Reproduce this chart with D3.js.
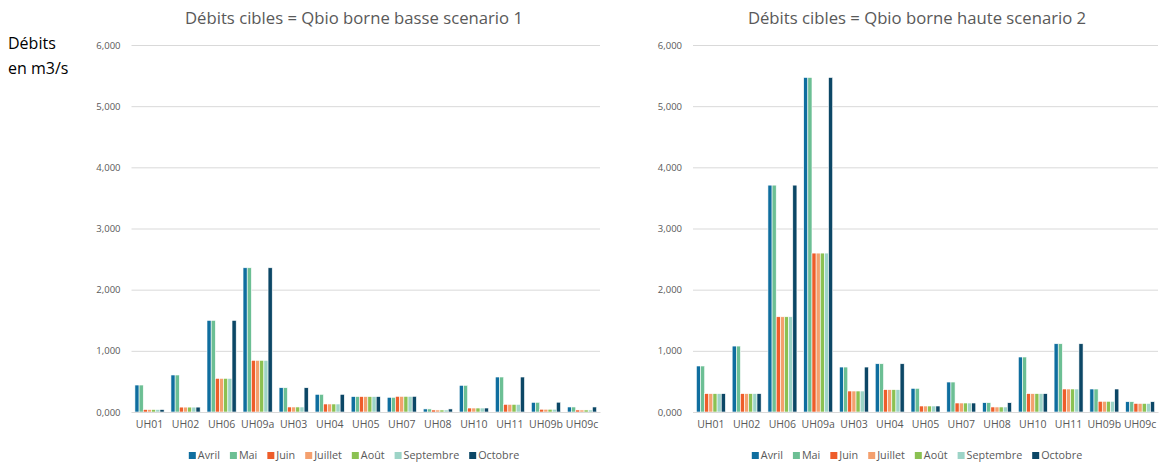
<!DOCTYPE html>
<html lang="fr">
<head>
<meta charset="utf-8">
<title>Débits cibles</title>
<script src="https://d3js.org/d3.v7.min.js"></script>
<style>
  body { margin: 0; background: #fff; font-family: "Open Sans", sans-serif; }
  .tick text { fill: #595959; font-size: 9.5px; font-family: "Open Sans", sans-serif; }
</style>
</head>
<body>
<script>
// categories and series
var stations = ["UH01", "UH02", "UH06", "UH09a", "UH03", "UH04", "UH05", "UH07", "UH08", "UH10", "UH11", "UH09b", "UH09c"];
var months = ["Avril", "Mai", "Juin", "Juillet", "Août", "Septembre", "Octobre"];
var monthColors = ["#0f6e9f", "#6cbf94", "#ee5d2a", "#f4a06e", "#8bc152", "#9dd4c7", "#0c4766"];
var yTicks = [0, 1, 2, 3, 4, 5, 6];

// Qbio borne basse, scenario 1 (m3/s) - one row per station, one value per month
var basseS1 = [
  [0.441, 0.441, 0.040, 0.040, 0.040, 0.040, 0.040],
  [0.605, 0.605, 0.080, 0.080, 0.080, 0.080, 0.080],
  [1.498, 1.498, 0.550, 0.550, 0.550, 0.550, 1.498],
  [2.358, 2.358, 0.845, 0.845, 0.845, 0.845, 2.358],
  [0.397, 0.397, 0.082, 0.082, 0.082, 0.082, 0.397],
  [0.289, 0.289, 0.131, 0.131, 0.131, 0.131, 0.289],
  [0.252, 0.252, 0.252, 0.252, 0.252, 0.252, 0.252],
  [0.240, 0.240, 0.256, 0.256, 0.256, 0.256, 0.256],
  [0.050, 0.050, 0.033, 0.033, 0.033, 0.033, 0.050],
  [0.436, 0.436, 0.065, 0.065, 0.065, 0.065, 0.065],
  [0.572, 0.572, 0.125, 0.125, 0.125, 0.125, 0.572],
  [0.158, 0.158, 0.045, 0.045, 0.045, 0.045, 0.160],
  [0.082, 0.082, 0.033, 0.033, 0.033, 0.033, 0.082]
];

// Qbio borne haute, scenario 2 (m3/s)
var hauteS2 = [
  [0.752, 0.752, 0.300, 0.300, 0.300, 0.300, 0.300],
  [1.078, 1.078, 0.300, 0.300, 0.300, 0.300, 0.300],
  [3.709, 3.709, 1.557, 1.557, 1.557, 1.557, 3.709],
  [5.469, 5.469, 2.598, 2.598, 2.598, 2.598, 5.469],
  [0.735, 0.735, 0.343, 0.343, 0.343, 0.343, 0.735],
  [0.789, 0.789, 0.365, 0.365, 0.365, 0.365, 0.789],
  [0.387, 0.387, 0.098, 0.098, 0.098, 0.098, 0.098],
  [0.490, 0.490, 0.147, 0.147, 0.147, 0.147, 0.147],
  [0.152, 0.152, 0.082, 0.082, 0.082, 0.082, 0.152],
  [0.899, 0.899, 0.300, 0.300, 0.300, 0.300, 0.300],
  [1.116, 1.116, 0.376, 0.376, 0.376, 0.376, 1.116],
  [0.376, 0.376, 0.175, 0.175, 0.175, 0.175, 0.376],
  [0.168, 0.168, 0.140, 0.140, 0.140, 0.140, 0.168]
];

var W = 1159, H = 462;
var fr = d3.formatLocale({decimal: ",", thousands: " ", grouping: [3], currency: ["", " €"]});
var fmt = fr.format(".3f");

var svg = d3.select("body").append("svg")
    .attr("width", W)
    .attr("height", H);

// unit label
var unit = svg.append("text")
    .attr("x", 8)
    .attr("y", 49)
    .style("font-size", "16px")
    .style("fill", "#000");
unit.append("tspan").attr("x", 8).text("Débits");
unit.append("tspan").attr("x", 8).attr("dy", 25).text("en m3/s");

function drawChart(title, rows, left, right, titleX) {
  var top = 45, bottom = 412;
  var g = svg.append("g");

  var x = d3.scaleBand()
      .domain(stations)
      .range([left, right])
      .paddingInner(0.19)
      .paddingOuter(0.095);

  var xm = d3.scaleBand()
      .domain(months)
      .range([0, x.bandwidth()]);

  var y = d3.scaleLinear()
      .domain([0, 6])
      .range([bottom, top]);

  var color = d3.scaleOrdinal().domain(months).range(monthColors);

  // grid + y labels
  var yAxis = g.append("g")
      .attr("transform", "translate(" + left + ",0)")
      .call(d3.axisLeft(y).tickValues(yTicks).tickFormat(fmt).tickSize(-(right - left)).tickPadding(11));
  yAxis.select(".domain").remove();
  yAxis.selectAll(".tick line").attr("stroke", "#d9d9d9").attr("stroke-width", 1);

  // bars
  var groups = g.selectAll(".station")
      .data(rows)
      .enter().append("g")
      .attr("transform", function(d, i) { return "translate(" + x(stations[i]) + ",0)"; });

  groups.selectAll("rect")
      .data(function(d) { return d.map(function(v, j) { return {month: months[j], value: v}; }); })
      .enter().append("rect")
      .attr("x", function(d) { return xm(d.month); })
      .attr("width", xm.bandwidth())
      .attr("y", function(d) { return y(d.value); })
      .attr("height", function(d) { return y(0) - y(d.value); })
      .attr("fill", function(d) { return color(d.month); })
      .attr("stroke", "#fff")
      .attr("stroke-width", 0.6);

  // x axis
  var xAxis = g.append("g")
      .attr("transform", "translate(0," + bottom + ")")
      .call(d3.axisBottom(x).tickSize(0).tickPadding(9));
  xAxis.select(".domain").attr("stroke", "#d9d9d9");
  xAxis.selectAll(".tick text").style("font-size", "10.5px");

  // title
  g.append("text")
      .attr("x", titleX)
      .attr("y", 24)
      .attr("text-anchor", "middle")
      .style("font-size", "16.7px")
      .style("fill", "#595959")
      .text(title);

  // legend
  var leg = g.append("g").attr("transform", "translate(0,459)");
  var items = leg.selectAll("g")
      .data(months)
      .enter().append("g");
  items.append("rect")
      .attr("width", 7)
      .attr("height", 7)
      .attr("y", -7)
      .attr("fill", function(d) { return color(d); });
  items.append("text")
      .attr("x", 9)
      .attr("y", 0)
      .style("font-size", "10.8px")
      .style("fill", "#595959")
      .text(function(d) { return d; });
  var pos = 0, widths = [];
  items.each(function() {
    var w = this.querySelector("text").getComputedTextLength();
    widths.push(9 + w);
  });
  var total = d3.sum(widths) + 10 * (widths.length - 1);
  var start = titleX - total / 2;
  items.attr("transform", function(d, i) {
    var tx = start + pos;
    pos += widths[i] + 10;
    return "translate(" + tx + ",0)";
  });
}

drawChart("Débits cibles = Qbio borne basse scenario 1", basseS1, 131.5, 600, 354);
drawChart("Débits cibles = Qbio borne haute scenario 2", hauteS2, 693, 1158, 917);
</script>
</body>
</html>
